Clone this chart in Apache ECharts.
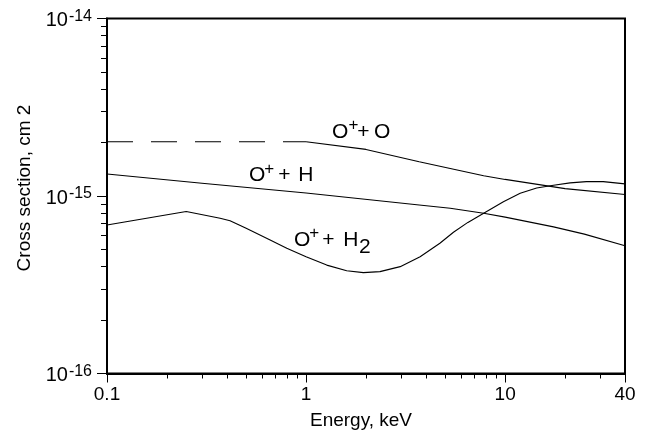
<!DOCTYPE html>
<html><head><meta charset="utf-8">
<script src="https://cdn.jsdelivr.net/npm/echarts@6/dist/echarts.min.js"></script>
<style>html,body{margin:0;padding:0;background:#fff}#c{width:648px;height:432px}</style>
</head><body><div id="c"></div>
<script>
// ---- data (energy in keV, cross section in cm^2) ----
const energyOO_low = [0.1, 1];
const sigmaOO_low = [2.02e-15, 2.02e-15];
const energyOO = [1, 2, 3.7, 5.3, 7.8, 10, 20, 40];
const sigmaOO = [2.02e-15, 1.83e-15, 1.56e-15, 1.43e-15, 1.30e-15, 1.24e-15, 1.10e-15, 1.02e-15];
const energyOH = [0.1, 0.3, 1, 3.7, 5.3, 7.8, 10, 17.5, 25, 40];
const sigmaOH = [1.33e-15, 1.18e-15, 1.04e-15, 8.9e-16, 8.53e-16, 8.0e-16, 7.6e-16, 6.7e-16, 6.1e-16, 5.25e-16];
const energyOH2 = [0.1, 0.25, 0.37, 0.415, 0.5, 0.66, 0.8, 1.0, 1.27, 1.6, 1.94, 2.35, 2.97, 3.74, 4.7, 5.5, 6.5, 7.8, 9.8, 11.9, 14.4, 17.5, 21.2, 25.6, 31.1, 40];
const sigmaOH2 = [6.87e-16, 8.17e-16, 7.49e-16, 7.26e-16, 6.58e-16, 5.65e-16, 5.07e-16, 4.55e-16, 4.08e-16, 3.79e-16, 3.70e-16, 3.75e-16, 4.00e-16, 4.55e-16, 5.42e-16, 6.25e-16, 7.1e-16, 8.0e-16, 9.29e-16, 1.035e-15, 1.11e-15, 1.15e-15, 1.185e-15, 1.205e-15, 1.205e-15, 1.17e-15];

// ---- tick values ----
const xMajorTicks = [0.1, 1, 10, 40];
const xMinorTicks = [0.2, 0.3, 0.4, 0.5, 0.6, 0.7, 0.8, 0.9, 2, 3, 4, 5, 6, 7, 8, 9, 20, 30];
const xTickLabels = ['0.1', '1', '10', '40'];
const yMajorTicks = [1e-16, 1e-15, 1e-14];
const yMinorTicks = [2e-16, 3e-16, 4e-16, 5e-16, 6e-16, 7e-16, 8e-16, 9e-16, 2e-15, 3e-15, 4e-15, 5e-15, 6e-15, 7e-15, 8e-15, 9e-15];
const yTickExponents = ['-16', '-15', '-14'];

const FONT = '"Liberation Sans", Arial, Helvetica, sans-serif';
const zip = (a, b) => a.map((v, i) => [v, b[i]]);

const chart = echarts.init(document.getElementById('c'), null, {renderer: 'canvas'});

const baseX = {
  type: 'log', logBase: 10, min: 0.1, max: 40, gridIndex: 0, position: 'bottom',
  splitLine: {show: false}, minorTick: {show: false}, minorSplitLine: {show: false}
};
const baseY = {
  type: 'log', logBase: 10, min: 1e-16, max: 1e-14, gridIndex: 0, position: 'left',
  splitLine: {show: false}, minorTick: {show: false}, minorSplitLine: {show: false}
};

const option = {
  animation: false,
  backgroundColor: '#fff',
  grid: {left: 107, right: 23, top: 18.5, bottom: 58.5, show: true, borderColor: '#000', borderWidth: 2, backgroundColor: 'transparent'},
  xAxis: [
    Object.assign({}, baseX, {
      axisLine: {show: true, lineStyle: {color: '#000', width: 2}},
      axisTick: {show: true, customValues: xMinorTicks, length: 5, lineStyle: {color: '#000', width: 1}},
      axisLabel: {show: true, customValues: xMajorTicks, margin: 12, fontFamily: FONT, fontSize: 19, color: '#000',
        formatter: v => { const i = xMajorTicks.findIndex(t => Math.abs(t - v) / t < 1e-6); return i >= 0 ? xTickLabels[i] : ''; }}
    }),
    Object.assign({}, baseX, {
      axisLine: {show: false},
      axisTick: {show: true, customValues: xMajorTicks, length: 9, lineStyle: {color: '#000', width: 1}},
      axisLabel: {show: false}
    })
  ],
  yAxis: [
    Object.assign({}, baseY, {
      axisLine: {show: true, lineStyle: {color: '#000', width: 2}},
      axisTick: {show: true, customValues: yMinorTicks, length: 6, lineStyle: {color: '#000', width: 1}},
      axisLabel: {show: true, customValues: yMajorTicks, margin: 15, fontFamily: FONT, color: '#000',
        formatter: v => { const i = yMajorTicks.findIndex(t => Math.abs(t - v) / t < 1e-6); return i >= 0 ? '{b|10}{s|' + yTickExponents[i] + '}' : ''; },
        rich: {
          b: {fontFamily: FONT, fontSize: 20, color: '#000', lineHeight: 20, padding: [4, 1, 0, 0]},
          s: {fontFamily: FONT, fontSize: 16, color: '#000', verticalAlign: 'top', lineHeight: 10}
        }}
    }),
    Object.assign({}, baseY, {
      axisLine: {show: false},
      axisTick: {show: true, customValues: yMajorTicks, length: 10, lineStyle: {color: '#000', width: 1}},
      axisLabel: {show: false}
    })
  ],
  series: [
    {type: 'line', name: 'O+ + O (low)', xAxisIndex: 0, yAxisIndex: 0, data: zip(energyOO_low, sigmaOO_low), symbol: 'none',
      lineStyle: {color: '#000', width: 1.1, type: [26, 18]}},
    {type: 'line', name: 'O+ + O', xAxisIndex: 0, yAxisIndex: 0, data: zip(energyOO, sigmaOO), symbol: 'none',
      lineStyle: {color: '#000', width: 1.1}},
    {type: 'line', name: 'O+ + H', xAxisIndex: 0, yAxisIndex: 0, data: zip(energyOH, sigmaOH), symbol: 'none',
      lineStyle: {color: '#000', width: 1.1}},
    {type: 'line', name: 'O+ + H2', xAxisIndex: 0, yAxisIndex: 0, data: zip(energyOH2, sigmaOH2), symbol: 'none',
      lineStyle: {color: '#000', width: 1.1}}
  ],
  graphic: []
};

// curve annotations: [text, left x, vertical centre y, font size]
const labelFragments = [
  ['O', 332, 132, 21], ['+', 348.4, 125.5, 17], ['+', 357.2, 132, 21], ['O', 374, 132, 21],
  ['O', 249, 175.7, 21], ['+', 264.3, 169.5, 17], ['+', 278.2, 175.7, 21], ['H', 298.3, 175.7, 21],
  ['O', 294, 240, 21], ['+', 309.3, 233, 17], ['+', 322.2, 240, 21], ['H', 343.3, 240, 21], ['2', 359, 247.5, 21]
];
const gfx = labelFragments.map(f => ({
  type: 'text', x: f[1], y: f[2], z: 100,
  style: {text: f[0], font: f[3] + 'px ' + FONT, fill: '#000', align: 'left', verticalAlign: 'middle'}
}));
// axis titles
gfx.push({type: 'text', x: 361, y: 421, z: 100,
  style: {text: 'Energy, keV', font: '19px ' + FONT, fill: '#000', align: 'center', verticalAlign: 'middle'}});
gfx.push({type: 'text', x: 25, y: 188, rotation: Math.PI / 2, z: 100,
  style: {text: 'Cross section, cm 2', font: '19px ' + FONT, fill: '#000', align: 'center', verticalAlign: 'middle'}});
option.graphic = gfx;

chart.setOption(option);
</script>
</body></html>
